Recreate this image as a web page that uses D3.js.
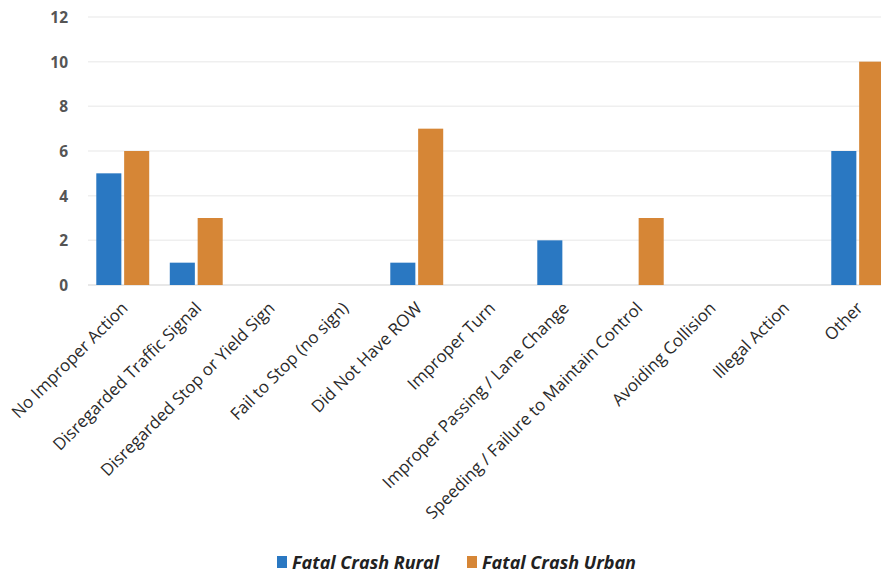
<!DOCTYPE html>
<html><head><meta charset="utf-8">
<script src="https://cdn.jsdelivr.net/npm/d3@7"></script>
<style>body{margin:0;background:#fff;overflow:hidden}</style>
</head><body>
<svg id="c" width="881" height="573"></svg>
<script>
const categories = ["No Improper Action","Disregarded Traffic Signal","Disregarded Stop or Yield Sign","Fail to Stop (no sign)","Did Not Have ROW","Improper Turn","Improper Passing / Lane Change","Speeding / Failure to Maintain Control","Avoiding Collision","Illegal Action","Other"];
const seriesNames = ["Fatal Crash Rural","Fatal Crash Urban"];
const rural = [5,1,0,0,1,0,2,0,0,0,6];
const urban = [6,3,0,0,7,0,0,3,0,0,10];
const yTicks = [0,2,4,6,8,10,12];
const colors = ["#2a78c2","#d68636"];

const svg = d3.select("#c");
const x = d3.scaleBand().domain(categories).range([86, 894.5]).paddingInner(0.28).paddingOuter(0.14);
const y = d3.scaleLinear().domain([0,12]).range([285, 17]);
const x1 = d3.scaleBand().domain(seriesNames).range([0, x.bandwidth()]).paddingInner(0.1);

// gridlines
svg.append("g").selectAll("line").data(yTicks).join("line")
  .attr("x1", 88).attr("x2", 881)
  .attr("y1", d => y(d)).attr("y2", d => y(d))
  .attr("stroke", d => d === 0 ? "#e0e0e0" : "#efefef").attr("stroke-width", 1.5);

// y axis labels
const yAxis = d3.axisLeft(y).tickValues(yTicks).tickSize(0).tickPadding(0);
const yg = svg.append("g").attr("transform", "translate(68,0)").call(yAxis);
yg.select(".domain").remove();
yg.selectAll("text").attr("font-family", "'Open Sans', sans-serif").attr("font-size", 15.5)
  .attr("font-weight", "bold").attr("fill", "#555").attr("dy", "0.35em");

// bars
const data = categories.map((c, i) => ({c, vals: [rural[i], urban[i]]}));
const groups = svg.append("g").selectAll("g").data(data).join("g")
  .attr("transform", d => `translate(${x(d.c)},0)`);
groups.selectAll("rect").data(d => d.vals.map((v, j) => ({v, s: seriesNames[j], j})))
  .join("rect")
  .attr("x", d => x1(d.s)).attr("width", x1.bandwidth())
  .attr("y", d => y(d.v)).attr("height", d => y(0) - y(d.v))
  .attr("fill", d => colors[d.j]);

// x axis labels
const xAxis = d3.axisBottom(x).tickSize(0).tickPadding(0);
const xg = svg.append("g").attr("transform", "translate(0,292)").call(xAxis);
xg.select(".domain").remove();
xg.selectAll("text")
  .attr("font-family", "'Open Sans', sans-serif").attr("font-size", 16.9).attr("fill", "#2a2a2a")
  .attr("text-anchor", "end").attr("dy", "0.35em").attr("y", 0)
  .attr("transform", "translate(2,13) rotate(-45)");

// legend
const leg = svg.append("g");
const legX = [277, 467];
seriesNames.forEach((s, i) => {
  leg.append("rect").attr("x", legX[i]).attr("y", 556).attr("width", 10).attr("height", 12).attr("fill", colors[i]);
  leg.append("text").attr("x", legX[i] + 15).attr("y", 568.5).text(s)
    .attr("font-family", "'Open Sans', sans-serif").attr("font-size", 18)
    .attr("font-weight", "bold").attr("font-style", "italic").attr("fill", "#222");
});
</script>
</body></html>
